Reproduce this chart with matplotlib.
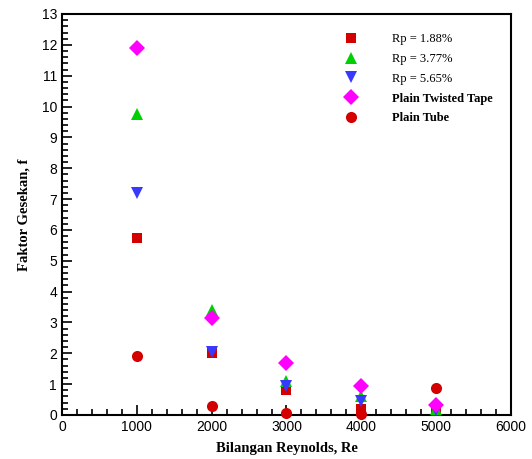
import matplotlib
matplotlib.use("Agg")
import matplotlib.pyplot as plt
from matplotlib.ticker import MultipleLocator
from matplotlib.lines import Line2D

re_vals = [1000, 2000, 3000, 4000, 5000]
rp188 = [5.75, 2.0, 0.8, 0.2, 0.12]
rp377 = [9.75, 3.4, 1.1, 0.6, 0.18]
rp565 = [7.2, 2.05, 0.95, 0.45, 0.15]
ptt = [11.9, 3.15, 1.7, 0.95, 0.32]
plain = [1.9, 0.3, 0.08, 0.03, 0.88]

labels = ["Rp = 1.88%", "Rp = 3.77%", "Rp = 5.65%", "Plain Twisted Tape", "Plain Tube"]

fig = plt.figure(figsize=(5.32, 4.59), dpi=100)
ax = fig.add_axes([0.1165, 0.0959, 0.844, 0.8736])

series = [
    (rp188, "s", "#d40000", 7.5),
    (rp377, "^", "#00d000", 9),
    (rp565, "v", "#3838ff", 9),
    (ptt, "D", "#ff00ff", 8),
    (plain, "o", "#d40000", 8),
]
handles = []
for (vals, m, c, ms), lab in zip(series, labels):
    ax.plot(re_vals, vals, linestyle="none", marker=m, color=c, markersize=ms,
            markeredgewidth=0, clip_on=False, zorder=3)
    handles.append(Line2D([], [], linestyle="none", marker=m, color=c,
                          markersize=ms, markeredgewidth=0))

ax.set_xlim(0, 6000)
ax.set_ylim(0, 13)
ax.xaxis.set_major_locator(MultipleLocator(1000))
ax.xaxis.set_minor_locator(MultipleLocator(200))
ax.yaxis.set_major_locator(MultipleLocator(1))
ax.yaxis.set_minor_locator(MultipleLocator(0.2))
ax.tick_params(which="both", direction="in", top=False, right=False,
               labelsize=10, width=1.2)
ax.tick_params(which="major", length=7)
ax.tick_params(which="minor", length=4)
for lab in ax.get_xticklabels() + ax.get_yticklabels():
    lab.set_family("Liberation Sans")
for sp in ax.spines.values():
    sp.set_linewidth(1.5)

ax.set_xlabel("Bilangan Reynolds, Re", family="Liberation Serif",
              fontweight="bold", fontsize=10.5, labelpad=6)
ax.set_ylabel("Faktor Gesekan, f", family="Liberation Serif",
              fontweight="bold", fontsize=10.5, labelpad=8)

leg = ax.legend(handles, labels, loc="upper left", bbox_to_anchor=(0.59, 0.98),
                frameon=False, handletextpad=2.3, labelspacing=0.62,
                prop={"family": "Liberation Serif", "size": 9})
for t in leg.get_texts()[3:]:
    t.set_fontweight("bold")

fig.savefig("out.png", dpi=100)
